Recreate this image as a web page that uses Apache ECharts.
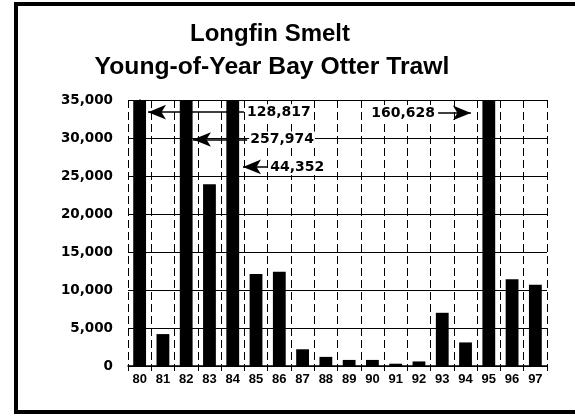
<!DOCTYPE html>
<html>
<head>
<meta charset="utf-8">
<script src="https://cdn.jsdelivr.net/npm/echarts@6/dist/echarts.min.js"></script>
<style>html,body{margin:0;padding:0;background:#fff;overflow:hidden}#c{width:575px;height:417px}</style>
</head>
<body>
<div id="c"></div>
<script>
// Data
var years = ['80','81','82','83','84','85','86','87','88','89','90','91','92','93','94','95','96','97'];
// true indices (off-scale values are clipped at the axis top and labelled by arrows)
var trueValues = [128817, 4200, 257974, 23900, 44352, 12100, 12400, 2200, 1200, 800, 800, 300, 600, 7000, 3100, 160628, 11400, 10700];
var yTicks = [0, 5000, 10000, 15000, 20000, 25000, 30000, 35000];
var yMax = 35000;
// annotation arrows: label, arrow tip / tail positions (in category-index units), level
var offScale = [
  { text: '128,817', tip: 0.36, tail: 4.48, level: 33400 },
  { text: '257,974', tip: 2.29, tail: 4.62, level: 29800 },
  { text: '44,352',  tip: 4.44, tail: 5.48, level: 26200 },
  { text: '160,628', tip: 14.23, tail: 12.82, level: 33300 }
];

var shown = trueValues.map(function (v) { return Math.min(v, yMax); });
function fmt(v) { return v.toLocaleString('en-US'); }

var FONT = 'Liberation Sans, Arial, sans-serif';
var WIDE = 'DejaVu Sans, Verdana, sans-serif';

var markData = offScale.map(function (a) {
  return [
    { coord: [a.tip, a.level], symbol: 'arrow' },
    { coord: [a.tail, a.level], symbol: 'none',
      label: { show: true, position: 'end', formatter: a.text, distance: 2 } }
  ];
});

var frameStyle = { stroke: '#000', lineWidth: 4 };
var chart = echarts.init(document.getElementById('c'));
chart.setOption({
  animation: false,
  backgroundColor: '#fff',
  title: [
    { text: 'Longfin Smelt', left: 265, textAlign: 'center', top: 17,
      textStyle: { fontSize: 24, fontWeight: 'bold', color: '#000', fontFamily: FONT } },
    { text: 'Young-of-Year Bay Otter Trawl', left: 267, textAlign: 'center', top: 50,
      textStyle: { fontSize: 24.7, fontWeight: 'bold', color: '#000', fontFamily: FONT } }
  ],
  graphic: [
    { type: 'line', shape: { x1: 14, y1: 4, x2: 575, y2: 4 }, style: frameStyle, z: 100, silent: true },
    { type: 'line', shape: { x1: 16, y1: 2, x2: 16, y2: 414 }, style: frameStyle, z: 100, silent: true },
    { type: 'line', shape: { x1: 14, y1: 412, x2: 575, y2: 412 }, style: frameStyle, z: 100, silent: true }
  ],
  grid: { left: 128, right: 28, top: 100, bottom: 51 },
  xAxis: [{
    type: 'category',
    data: years,
    axisLine: { lineStyle: { color: '#000', width: 1.5 } },
    axisTick: { show: true, length: 5, lineStyle: { color: '#000' } },
    axisLabel: { fontSize: 13, margin: 7, color: '#000', fontWeight: 'bold', fontFamily: FONT },
    splitLine: { show: true, lineStyle: { color: '#000', width: 1, type: [8, 4] } }
  }, {
    type: 'value', min: -0.5, max: years.length - 0.5, show: false,
    splitLine: { show: false }
  }],
  yAxis: {
    type: 'value',
    min: 0, max: yMax, interval: 5000,
    axisLine: { show: true, lineStyle: { color: '#000', width: 1.5 } },
    axisTick: { show: true, length: 4, lineStyle: { color: '#000' } },
    axisLabel: { fontSize: 13.5, margin: 15, color: '#000', fontWeight: 'bold', fontFamily: WIDE,
      formatter: function (v) { return fmt(v); } },
    splitLine: { show: true, lineStyle: { color: '#000', width: 1.2 } }
  },
  series: [{
    type: 'bar',
    data: shown,
    barWidth: '55%',
    itemStyle: { color: '#000' }
  }, {
    type: 'scatter',
    xAxisIndex: 1,
    data: [],
    markLine: {
      silent: true,
      symbolSize: [11, 18],
      lineStyle: { color: '#000', width: 1.5, type: 'solid' },
      label: { fontSize: 14, color: '#000', fontWeight: 'bold', fontFamily: WIDE,
        backgroundColor: '#fff', padding: [1, 1] },
      emphasis: { disabled: true },
      data: markData
    }
  }]
});
</script>
</body>
</html>
